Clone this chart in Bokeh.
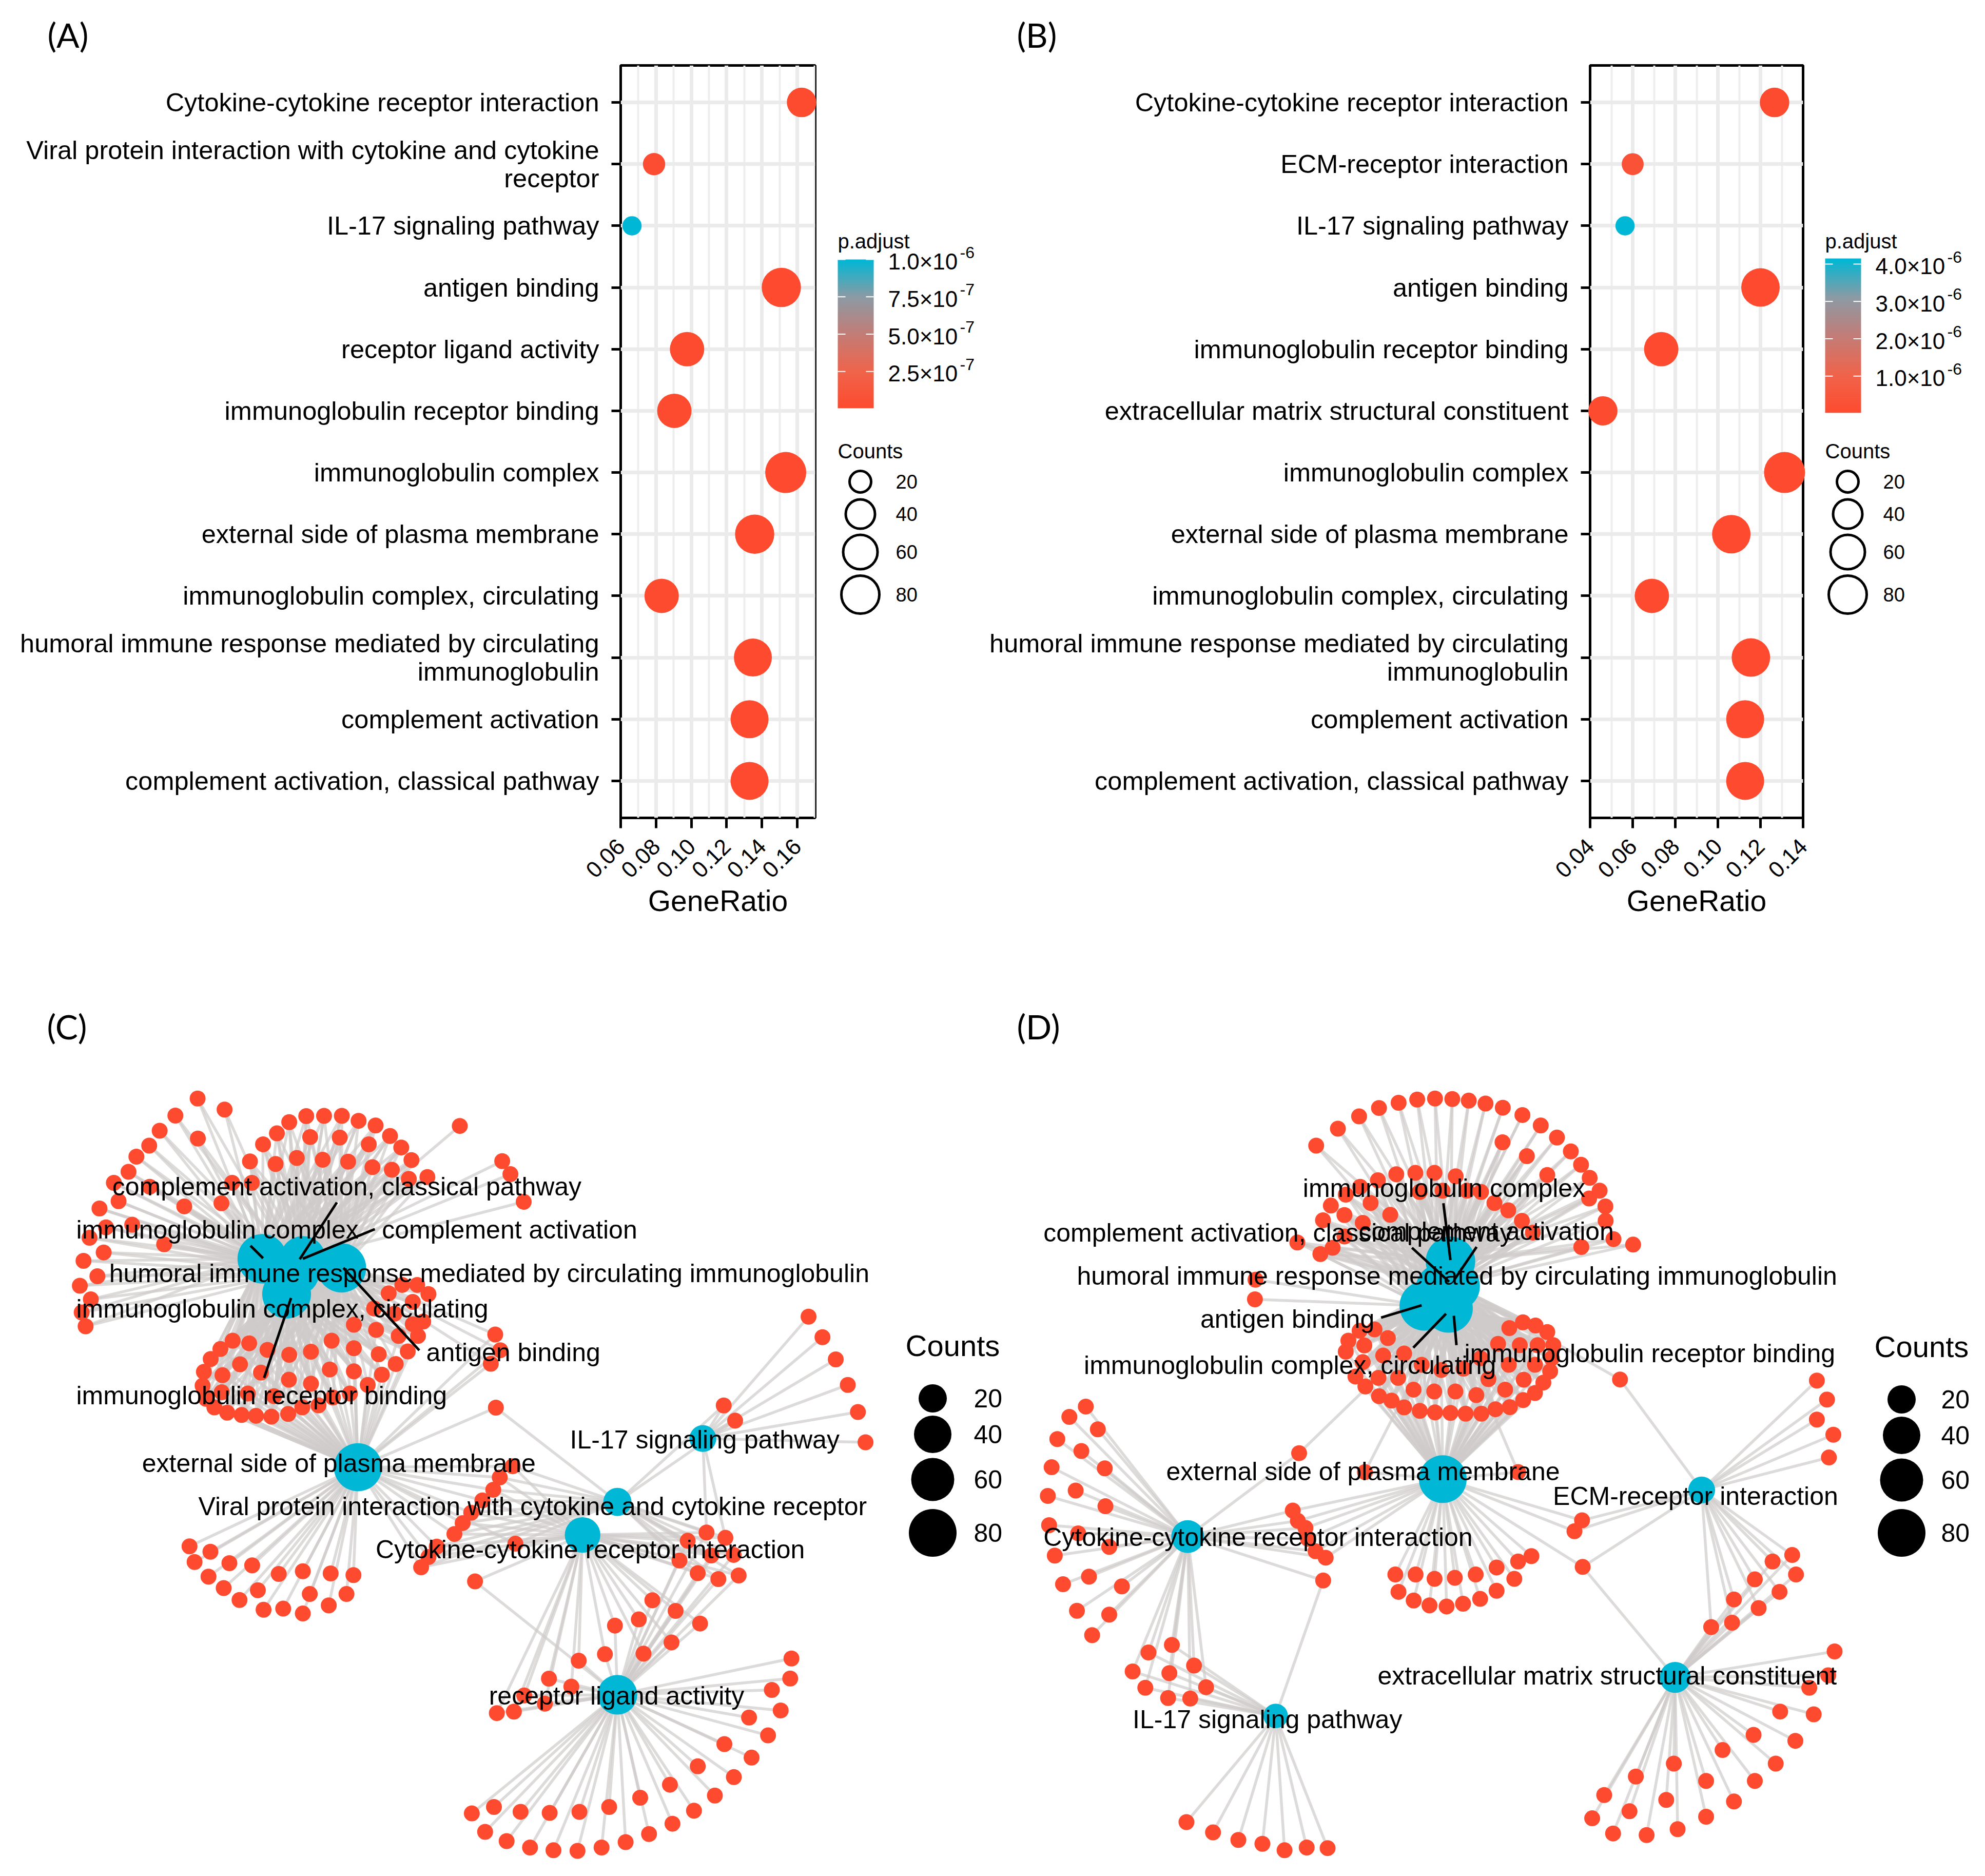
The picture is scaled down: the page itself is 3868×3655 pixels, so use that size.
import numpy as np
from bokeh.core.properties import value
from bokeh.embed import file_html
from bokeh.layouts import column, row
from bokeh.models import ColumnDataSource, FactorRange, FixedTicker, LinearColorMapper, Range1d
from bokeh.plotting import figure
from bokeh.resources import INLINE

RED = "#FE4B2F"
CYAN = "#00B8D6"
SANS = "Liberation Sans"

# ---------- dot plots: values ----------
A_terms = ["Cytokine-cytokine receptor interaction",
           "Viral protein interaction with cytokine and cytokine\nreceptor",
           "IL-17 signaling pathway", "antigen binding", "receptor ligand activity",
           "immunoglobulin receptor binding", "immunoglobulin complex",
           "external side of plasma membrane", "immunoglobulin complex, circulating",
           "humoral immune response mediated by circulating\nimmunoglobulin",
           "complement activation", "complement activation, classical pathway"]
A_ratio = [0.1625, 0.0789, 0.0664, 0.1510, 0.0976, 0.0904, 0.1535, 0.1359, 0.0832, 0.1349, 0.1330, 0.1330]
A_count = [41, 22, 15, 85, 60, 60, 92, 85, 60, 80, 80, 80]
A_padj = [6e-9, 3e-8, 1.0e-6, 1e-9, 5e-9, 4e-9, 1e-9, 1e-9, 4e-9, 1e-9, 1e-9, 1e-9]

B_terms = ["Cytokine-cytokine receptor interaction", "ECM-receptor interaction",
           "IL-17 signaling pathway", "antigen binding", "immunoglobulin receptor binding",
           "extracellular matrix structural constituent", "immunoglobulin complex",
           "external side of plasma membrane", "immunoglobulin complex, circulating",
           "humoral immune response mediated by circulating\nimmunoglobulin",
           "complement activation", "complement activation, classical pathway"]
B_ratio = [0.1266, 0.0600, 0.0564, 0.1200, 0.0734, 0.0460, 0.1313, 0.1063, 0.0690, 0.1155, 0.1128, 0.1128]
B_count = [41, 21, 15, 82, 60, 40, 92, 82, 60, 82, 80, 80]
B_padj = [2e-8, 3e-7, 4.0e-6, 1e-9, 1e-8, 2e-8, 1e-9, 1e-9, 1e-8, 1e-9, 1e-9, 1e-9]

A_ticks = [0.06, 0.08, 0.10, 0.12, 0.14, 0.16]
B_ticks = [0.04, 0.06, 0.08, 0.10, 0.12, 0.14]
A_cbar_ticks = [2.5e-7, 5e-7, 7.5e-7, 1e-6]
A_cbar_mant = ["2.5", "5.0", "7.5", "1.0"]
A_cbar_exp = ["-7", "-7", "-7", "-6"]
B_cbar_ticks = [1e-6, 2e-6, 3e-6, 4e-6]
B_cbar_mant = ["1.0", "2.0", "3.0", "4.0"]
B_cbar_exp = ["-6", "-6", "-6", "-6"]
legend_counts = [20, 40, 60, 80]

Z2 = (0, 2000, 1.2334, 1.0555)
Z3 = (1934, 2000, 1.2334, 1.0555)
Z6 = (100, 2100, .51, .51)
Z7 = (2400, 2100, .51, .51)
Z9 = (800, 2700, .574, .574)

C_hubs = {
    "left": (Z6, (805, 690), 90), "mid": (Z6, (960, 690), 70), "center": (Z6, (940, 745), 60),
    "right": (Z6, (1108, 725), 88), "bottom": (Z6, (898, 825), 86),
    "external": (Z2, (565, 813), 82), "ligand": (Z2, (975, 1233), 48), "cytokine": (Z2, (920, 938), 36),
    "viral": (Z2, (975, 877), 20), "il17": (Z2, (1110, 760), 17),
}
C_labels = [("complement activation, classical pathway", 177, 295),
            ("immunoglobulin complex", 120, 375), ("complement activation", 603, 375),
            ("humoral immune response mediated by circulating immunoglobulin", 172, 455),
            ("immunoglobulin complex, circulating", 120, 521), ("antigen binding", 673, 601),
            ("immunoglobulin receptor binding", 120, 681), ("external side of plasma membrane", 224, 806),
            ("IL-17 signaling pathway", 900, 762),
            ("Viral protein interaction with cytokine and cytokine receptor", 313, 885),
            ("Cytokine-cytokine receptor interaction", 593, 965), ("receptor ligand activity", 772, 1235)]
C_repel = [(1090, 475, 948, 692), (1235, 577, 960, 690), (760, 640, 808, 688),
           (1115, 725, 1405, 1040), (915, 840, 812, 1145)]
C_groups = [
    (Z6, ["left", "center"], [(558,78),(661,120),(473,143),(413,201),(559,231),(373,258),(324,300),(294,358),(238,400),(375,415),(256,470),(183,498),(507,490),(649,478),(690,400),(765,400),(208,570),(308,560),(145,610),(430,635),(199,666),(122,698),(175,757),(108,793),(150,845),(115,895),(130,948)]),
    (Z6, ["left", "mid", "right", "center"], [(808,253),(861,211),(908,168),(973,145),(1041,144),(1109,144),(1173,163),(1238,181),(1293,221),(1336,265),(1375,313),(1436,378),(1365,385),(1300,350),(1226,340),(1212,253),(1101,227),(988,225),(758,318),(856,328),(937,305),(1036,312),(1133,319)]),
    (Z2, ["mid"], [(726,183),(793,248),(806,272),(827,323)]),
    (Z6, ["bottom", "external", "left", "center", "right"], [(692,1003),(755,1013),(645,1035),(608,1073),(582,1122),(577,1175),(825,1038),(908,1057),(991,1045),(1070,1003),(1155,1032),(1250,1055),(1361,1044),(1400,985),(1326,985),(1240,962),(1155,942),(1315,1092),(1262,1133),(1155,1120),(1063,1113),(720,1093),(653,1135),(800,1125),(907,1152),(991,1167),(1208,1172),(1140,1205),(1075,1220),(1020,1250),(958,1258),(904,1283),(840,1293),(781,1290),(726,1287),(671,1278),(622,1258),(590,1225),(650,1200),(750,1205),(850,1215)]),
    (Z6, ["right", "center"], [(1340,790),(1397,790),(1440,825),(1288,822),(1380,855),(1232,880),(1310,900),(1420,930),(1380,940)]),
    (Z2, ["external", "right"], [(782,568),(790,597),(775,622)]),
    (Z2, ["external", "viral"], [(783,703)]),
    (Z2, ["external"], [(299,959),(332,969),(307,988),(362,990),(398,994),(329,1015),(440,1010),(478,1005),(522,1009),(558,1012),(353,1036),(407,1040),(489,1047),(547,1047),(378,1058),(519,1068),(416,1076),(447,1074),(478,1083)]),
    (Z9, ["external", "cytokine", "viral"], [(346,272),(302,310),(280,352),(243,388),(205,430),(176,465),(148,502),(88,545),(60,580),(35,615),(355,535)]),
    (Z9, ["cytokine", "ligand"], [(218,663),(820,727),(774,792),(693,813),(899,763),(982,806),(885,870),(790,908),(659,910),(570,932),(469,993),(545,1020),(385,1050),(455,1078),(350,1105),(292,1110)]),
    (Z9, ["cytokine", "ligand", "viral"], [(940,525),(1020,575),(1096,573),(912,592),(974,635),(1044,655),(1113,643)]),
    (Z9, ["cytokine", "ligand", "viral", "il17"], [(1004,497),(1068,515)]),
    (Z2, ["il17"], [(1277,535),(1299,573),(1320,614),(1339,661),(1355,711),(1367,767)]),
    (Z2, ["il17", "viral"], [(1143,699),(1161,727)]),
    (Z2, ["ligand"], [(745,1452),(780,1440),(822,1449),(868,1451),(915,1449),(962,1440),(1011,1423),(1058,1399),(1102,1365),(1144,1324),(766,1486),(800,1503),(837,1515),(874,1520),(912,1521),(950,1515),(988,1505),(1025,1490),(1062,1471),(1096,1447),(1129,1419),(1159,1385),(1187,1349),(1213,1308),(1233,1262),(1248,1203),(1250,1166),(1219,1224),(1183,1275)]),
]

D_hubs = {
    "top": (Z7, (835, 700), 90), "midr": (Z7, (855, 795), 84), "left": (Z7, (735, 870), 90),
    "bottom": (Z7, (828, 880), 84), "center": (Z7, (790, 800), 70),
    "external": (Z3, (711, 835), 80), "cytokine": (Z3, (308, 941), 30), "il17": (Z3, (447, 1272), 12),
    "ecm": (Z3, (1120, 855), 17), "struct": (Z3, (1078, 1201), 26),
}
D_labels = [("immunoglobulin complex", 490, 298), ("complement activation, classical pathway", 80, 380),
            ("complement activation", 578, 378),
            ("humoral immune response mediated by circulating immunoglobulin", 133, 460),
            ("antigen binding", 328, 540), ("immunoglobulin complex, circulating", 144, 625),
            ("immunoglobulin receptor binding", 745, 603), ("external side of plasma membrane", 274, 821),
            ("ECM-receptor interaction", 885, 866), ("Cytokine-cytokine receptor interaction", 80, 942),
            ("extracellular matrix structural constituent", 608, 1198), ("IL-17 signaling pathway", 221, 1279)]
D_repel = [(808, 478, 835, 695), (688, 648, 830, 778), (935, 645, 850, 770),
           (570, 915, 725, 868), (693, 1030, 818, 900), (858, 1020, 848, 908)]
D_groups = [
    (Z7, ["top", "center"], [(322,258),(405,193),(486,146),(562,114),(637,94),(708,82),(776,78),(842,80),(905,86),(969,97),(1035,113),(1110,141),(1180,181),(1242,227),(1295,280),(1334,331),(1367,381),(1405,430),(1365,460),(1427,490),(1428,545),(1458,615),(1533,636),(1335,645)]),
    (Z7, ["top", "left", "center", "midr"], [(1034,245),(1127,298),(1205,370),(1003,477),(1056,505),(1108,545),(855,375),(774,362),(701,362),(628,367),(558,390),(490,415),(435,445),(378,487),(348,543),(530,477),(430,523),(500,553),(605,522),(430,605),(717,435),(805,430),(898,430),(952,435),(1150,590),(250,628),(338,672),(385,648)]),
    (Z7, ["left"], [(90,770),(88,845)]),
    (Z7, ["bottom", "external", "left", "center", "midr"], [(545,960),(488,965),(596,993),(445,1003),(506,1021),(435,1045),(658,1052),(578,1060),(500,1085),(472,1140),(510,1178),(560,1145),(635,1145),(725,1095),(800,1115),(885,1110),(950,1070),(694,1190),(773,1197),(854,1197),(934,1211),(980,1150),(1044,1190),(1115,1152),(1058,1095),(1158,1095),(1017,1015),(1100,1020),(1168,1020),(1060,955),(1112,933),(1160,945),(1205,970),(1228,1020),(1222,1070),(1216,1120),(1190,1163),(1158,1203),(1113,1230),(1062,1257),(1007,1265),(953,1282),(893,1282),(835,1279),(776,1277),(718,1271),(658,1258),(610,1232),(562,1215)]),
    (Z3, ["midr", "ecm"], [(991,651)]),
    (Z3, ["bottom", "cytokine"], [(484,787)]),
    (Z3, ["bottom", "external"], [(588,822),(830,822)]),
    (Z3, ["cytokine"], [(147,701),(121,720),(166,743),(102,761),(140,783),(93,813),(177,815),(131,856),(87,866),(178,885),(89,920),(135,935),(98,976),(184,960),(152,1015),(111,1029),(204,1033),(133,1078),(184,1085),(157,1123)]),
    (Z3, ["cytokine", "external"], [(474,893),(482,912),(494,925),(498,945),(510,968),(526,980)]),
    (Z3, ["cytokine", "il17"], [(522,1022),(283,1141),(246,1155),(318,1179),(221,1190),(279,1193),(241,1220),(337,1219),(277,1239),(312,1240)]),
    (Z3, ["external"], [(636,1011),(668,1011),(698,1019),(730,1017),(763,1011),(796,998),(830,987),(851,977),(641,1043),(665,1059),(690,1068),(717,1070),(743,1065),(770,1056),(796,1041),(824,1019)]),
    (Z3, ["external", "ecm"], [(931,911),(919,931)]),
    (Z3, ["external", "ecm", "struct"], [(932,997)]),
    (Z3, ["ecm"], [(1302,653),(1318,688),(1302,725),(1328,753),(1321,795)]),
    (Z3, ["ecm", "struct"], [(1263,975),(1232,987),(1269,1011),(1204,1020),(1243,1043),(1171,1057),(1210,1073),(1168,1100),(1135,1108)]),
    (Z3, ["struct"], [(1330,1153),(1320,1197),(1290,1220),(1244,1264),(1297,1269),(1202,1307),(1268,1318),(1153,1335),(1237,1360),(1076,1360),(1204,1392),(1016,1384),(1127,1392),(966,1418),(1171,1430),(1064,1427),(1127,1458),(1006,1448),(947,1461),(1082,1481),(980,1489),(1033,1492)]),
    (Z3, ["il17"], [(306,1468),(348,1487),(388,1501),(426,1508),(461,1520),(496,1515),(529,1516)]),
]

ROW1_H = 1908
FRAME_TOP, FRAME_BOTTOM = 127, 1593
ROW2_END = 3640


# ---------- helpers ----------
def dot_size(counts):
    return np.interp(counts, [10, 20, 40, 60, 80, 100], [33, 42, 57, 67, 74, 84])


def hub_size(counts):
    return np.interp(counts, [10, 20, 40, 60, 80, 100], [46, 55, 73, 84, 93, 100])


def stops_palette():
    stops = np.array([0, .25, .5, .75, 1])
    r = np.interp(np.linspace(0, 1, 256), stops, [254, 240, 195, 140, 0])
    g = np.interp(np.linspace(0, 1, 256), stops, [75, 100, 125, 155, 184])
    b = np.interp(np.linspace(0, 1, 256), stops, [47, 75, 120, 165, 214])
    return ["#%02x%02x%02x" % (int(a), int(c), int(d)) for a, c, d in zip(r, g, b)]


PALETTE = stops_palette()


def to_page(crop, p):
    ox, oy, sx, sy = crop
    return ox + sx * p[0], oy + sy * p[1]


def dot_panel(letter, terms, ratio, counts, padj, ticks, xmax, pmax, px0, frame_left, frame_right, fig_w):
    p = figure(width=fig_w, height=ROW1_H, output_backend="svg", toolbar_location=None,
               x_range=Range1d(ticks[0], xmax),
               y_range=FactorRange(factors=terms[::-1], range_padding=0.1, range_padding_units="absolute"),
               min_border_left=frame_left - px0, min_border_right=px0 + fig_w - frame_right,
               min_border_top=FRAME_TOP, min_border_bottom=ROW1_H - FRAME_BOTTOM,
               title=letter[0], title_location="above")
    p.title.text_font = "Lato"
    p.title.text_font_size = "66px"
    p.title.text_font_style = "normal"
    p.title.text_color = "black"
    p.title.align = "left"
    p.title.offset = letter[1] - frame_left
    p.title.standoff = 42
    p.outline_line_color = "black"
    p.outline_line_width = 5
    step = ticks[1] - ticks[0]
    minor = [t + step / 2 for t in ticks]
    tick = FixedTicker(ticks=ticks, minor_ticks=minor)
    p.xaxis.ticker = tick
    p.xgrid.ticker = tick
    p.xgrid.grid_line_color = "#ebebeb"
    p.xgrid.grid_line_width = 7
    p.xgrid.minor_grid_line_color = "#eeeeee"
    p.xgrid.minor_grid_line_width = 4
    p.ygrid.grid_line_color = "#ebebeb"
    p.ygrid.grid_line_width = 7
    for ax in (p.xaxis[0], p.yaxis[0]):
        ax.axis_line_color = None
        ax.major_tick_in = 0
        ax.minor_tick_line_color = None
        ax.major_tick_line_color = "black"
        ax.major_tick_line_width = 5
        ax.major_label_text_font = SANS
        ax.major_label_text_color = "black"
    p.xaxis.major_tick_out = 20
    p.yaxis.major_tick_out = 18
    p.yaxis.major_label_standoff = 24
    p.yaxis.major_label_text_font_size = "50.5px"
    p.yaxis.major_label_text_line_height = 0.97
    p.xaxis.major_label_text_font_size = "44px"
    p.xaxis.major_label_orientation = np.pi / 4
    p.xaxis.major_label_standoff = 28
    p.xaxis.major_label_overrides = {t: "%.2f" % t for t in ticks}
    p.xaxis.axis_label = "GeneRatio"
    p.xaxis.axis_label_text_font = SANS
    p.xaxis.axis_label_text_font_style = "normal"
    p.xaxis.axis_label_text_font_size = "57px"
    p.xaxis.axis_label_text_color = "black"
    p.xaxis.axis_label_standoff = -4
    mapper = LinearColorMapper(palette=PALETTE, low=0, high=pmax)
    src = ColumnDataSource(dict(term=terms, ratio=ratio, padj=padj, size=dot_size(counts)))
    p.scatter("ratio", "term", source=src, size="size", marker="circle", level="overlay",
              fill_color={"field": "padj", "transform": mapper}, line_color=None)
    return p


def legend_panel(px0, px1, bar_x, ticks, mant, exp, pmax, p_per_px, y_zero):
    p = figure(width=px1 - px0, height=ROW1_H, output_backend="svg", toolbar_location=None,
               x_range=Range1d(px0, px1), y_range=Range1d(FRAME_BOTTOM, FRAME_TOP),
               min_border_left=0, min_border_right=0, min_border_top=FRAME_TOP,
               min_border_bottom=ROW1_H - FRAME_BOTTOM)
    p.axis.visible = False
    p.grid.visible = False
    p.outline_line_color = None
    p.extra_y_ranges = {"padj": Range1d(start=(y_zero - FRAME_BOTTOM) * p_per_px, end=(y_zero - FRAME_TOP) * p_per_px)}
    pmin = pmax * 0.004
    mapper = LinearColorMapper(palette=PALETTE, low=0, high=pmax)
    grad = np.linspace(pmin, pmax, 256).reshape(256, 1)
    p.image(image=[grad], x=bar_x, y=pmin, dw=70, dh=pmax - pmin, color_mapper=mapper, y_range_name="padj")
    p.segment(x0=[bar_x] * 4, x1=[bar_x + 15] * 4, y0=ticks, y1=ticks, y_range_name="padj", line_color="white", line_width=2)
    p.segment(x0=[bar_x + 55] * 4, x1=[bar_x + 70] * 4, y0=ticks, y1=ticks, y_range_name="padj", line_color="white", line_width=2)
    xt = [bar_x + 98] * 4
    p.text(x=xt, y=ticks, text=[m + "×10" for m in mant], y_range_name="padj", text_font=value(SANS),
           text_font_size=value("44px"), text_baseline=value("middle"), text_color="black", y_offset=4)
    p.text(x=[bar_x + 238] * 4, y=ticks, text=exp, y_range_name="padj", text_font=value(SANS),
           text_font_size=value("32px"), text_baseline=value("middle"), text_color="black", y_offset=-14)
    p.text(x=[bar_x], y=[469], text=["p.adjust"], text_font=value(SANS), text_font_size=value("40px"),
           text_baseline=value("middle"), text_color="black")
    p.text(x=[bar_x], y=[878], text=["Counts"], text_font=value(SANS), text_font_size=value("40px"),
           text_baseline=value("middle"), text_color="black")
    ys = [938, 1001, 1075, 1158]
    p.scatter(x=[bar_x + 44] * 4, y=ys, size=dot_size(legend_counts), marker="circle", fill_color=None,
              line_color="black", line_width=5)
    p.text(x=[bar_x + 113] * 4, y=ys, text=[str(c) for c in legend_counts], text_font=value(SANS),
           text_font_size=value("38px"), text_baseline=value("middle"), text_color="black")
    return p


def network_panel(letter, hubs, labels, label_crop, repel, repel_crop, groups, x0, x1, leg):
    y0, y1 = ROW1_H, ROW2_END
    p = figure(width=x1 - x0, height=y1 - y0, output_backend="svg", toolbar_location=None,
               x_range=Range1d(x0, x1), y_range=Range1d(y1, y0), min_border=0)
    p.axis.visible = False
    p.grid.visible = False
    p.outline_line_color = None
    hub_xy = {k: to_page(v[0], v[1]) for k, v in hubs.items()}
    ex0, ey0, ex1, ey1, gx, gy = [], [], [], [], [], []
    for crop, names, pts in groups:
        for pt in pts:
            gxy = to_page(crop, pt)
            gx.append(gxy[0])
            gy.append(gxy[1])
            for n in names:
                ex0.append(gxy[0])
                ey0.append(gxy[1])
                ex1.append(hub_xy[n][0])
                ey1.append(hub_xy[n][1])
    p.segment(ex0, ey0, ex1, ey1, line_color="#cfcaca", line_alpha=0.7, line_width=5.5)
    p.scatter(gx, gy, size=31, marker="circle", fill_color=RED, line_color=None)
    p.scatter([hub_xy[k][0] for k in hubs], [hub_xy[k][1] for k in hubs], marker="circle",
              size=hub_size([hubs[k][2] for k in hubs]), fill_color=CYAN, line_color=None)
    rp0 = [to_page(repel_crop, (r[0], r[1])) for r in repel]
    rp1 = [to_page(repel_crop, (r[2], r[3])) for r in repel]
    p.segment([a[0] for a in rp0], [a[1] for a in rp0], [a[0] for a in rp1], [a[1] for a in rp1],
              line_color="black", line_width=5)
    lab = [to_page(label_crop, (l[1], l[2])) for l in labels]
    p.text([a[0] for a in lab], [a[1] for a in lab], text=[l[0] for l in labels], text_font=value(SANS),
           text_font_size=value("50px"), text_baseline=value("middle"), text_color="black")
    p.text([letter[1]], [letter[2]], text=[letter[0]], text_font=value("Lato"), text_font_size=value("66px"),
           text_baseline=value("middle"), text_color="black")
    ys = leg["ys"]
    p.scatter([leg["x"]] * 4, ys, size=hub_size(legend_counts), marker="circle", fill_color="black", line_color=None)
    p.text([leg["lx"]] * 4, ys, text=[str(c) for c in legend_counts], text_font=value(SANS),
           text_font_size=value("50px"), text_baseline=value("middle"), text_color="black")
    p.text([leg["tx"]], [leg["ty"]], text=["Counts"], text_font=value(SANS), text_font_size=value("58px"),
           text_baseline=value("middle"), text_color="black")
    return p


pA = dot_panel(("(A)", 92, 62), A_terms, A_ratio, A_count, A_padj, A_ticks, 0.1702, 1.0e-6, 0, 1209, 1588, 1620)
lA = legend_panel(1620, 1915, 1632, A_cbar_ticks, A_cbar_mant, A_cbar_exp, 1.0e-6, 1.0e-6 / 291, 796)
pB = dot_panel(("(B)", 1981, 62), B_terms, B_ratio, B_count, B_padj, B_ticks, 0.14, 4.0e-6, 1915, 3098, 3513, 1625)
lB = legend_panel(3540, 3860, 3556, B_cbar_ticks, B_cbar_mant, B_cbar_exp, 4.15e-6, 4.0e-6 / 291, 805)
pC = network_panel(("(C)", 91, 1999), C_hubs, C_labels, Z2, C_repel, Z6, C_groups, 0, 1965,
                   dict(x=1817, ys=[2724, 2794, 2882, 2986], lx=1897, tx=1764, ty=2621))
pD = network_panel(("(D)", 1981, 1999), D_hubs, D_labels, Z3, D_repel, Z7, D_groups, 1965, 3860,
                   dict(x=3705, ys=[2726, 2796, 2883, 2986], lx=3782, tx=3652, ty=2623))

page = column(row(pA, lA, pB, lB), row(pC, pD), spacing=0)
open("out.html", "w").write(file_html(page, INLINE))
